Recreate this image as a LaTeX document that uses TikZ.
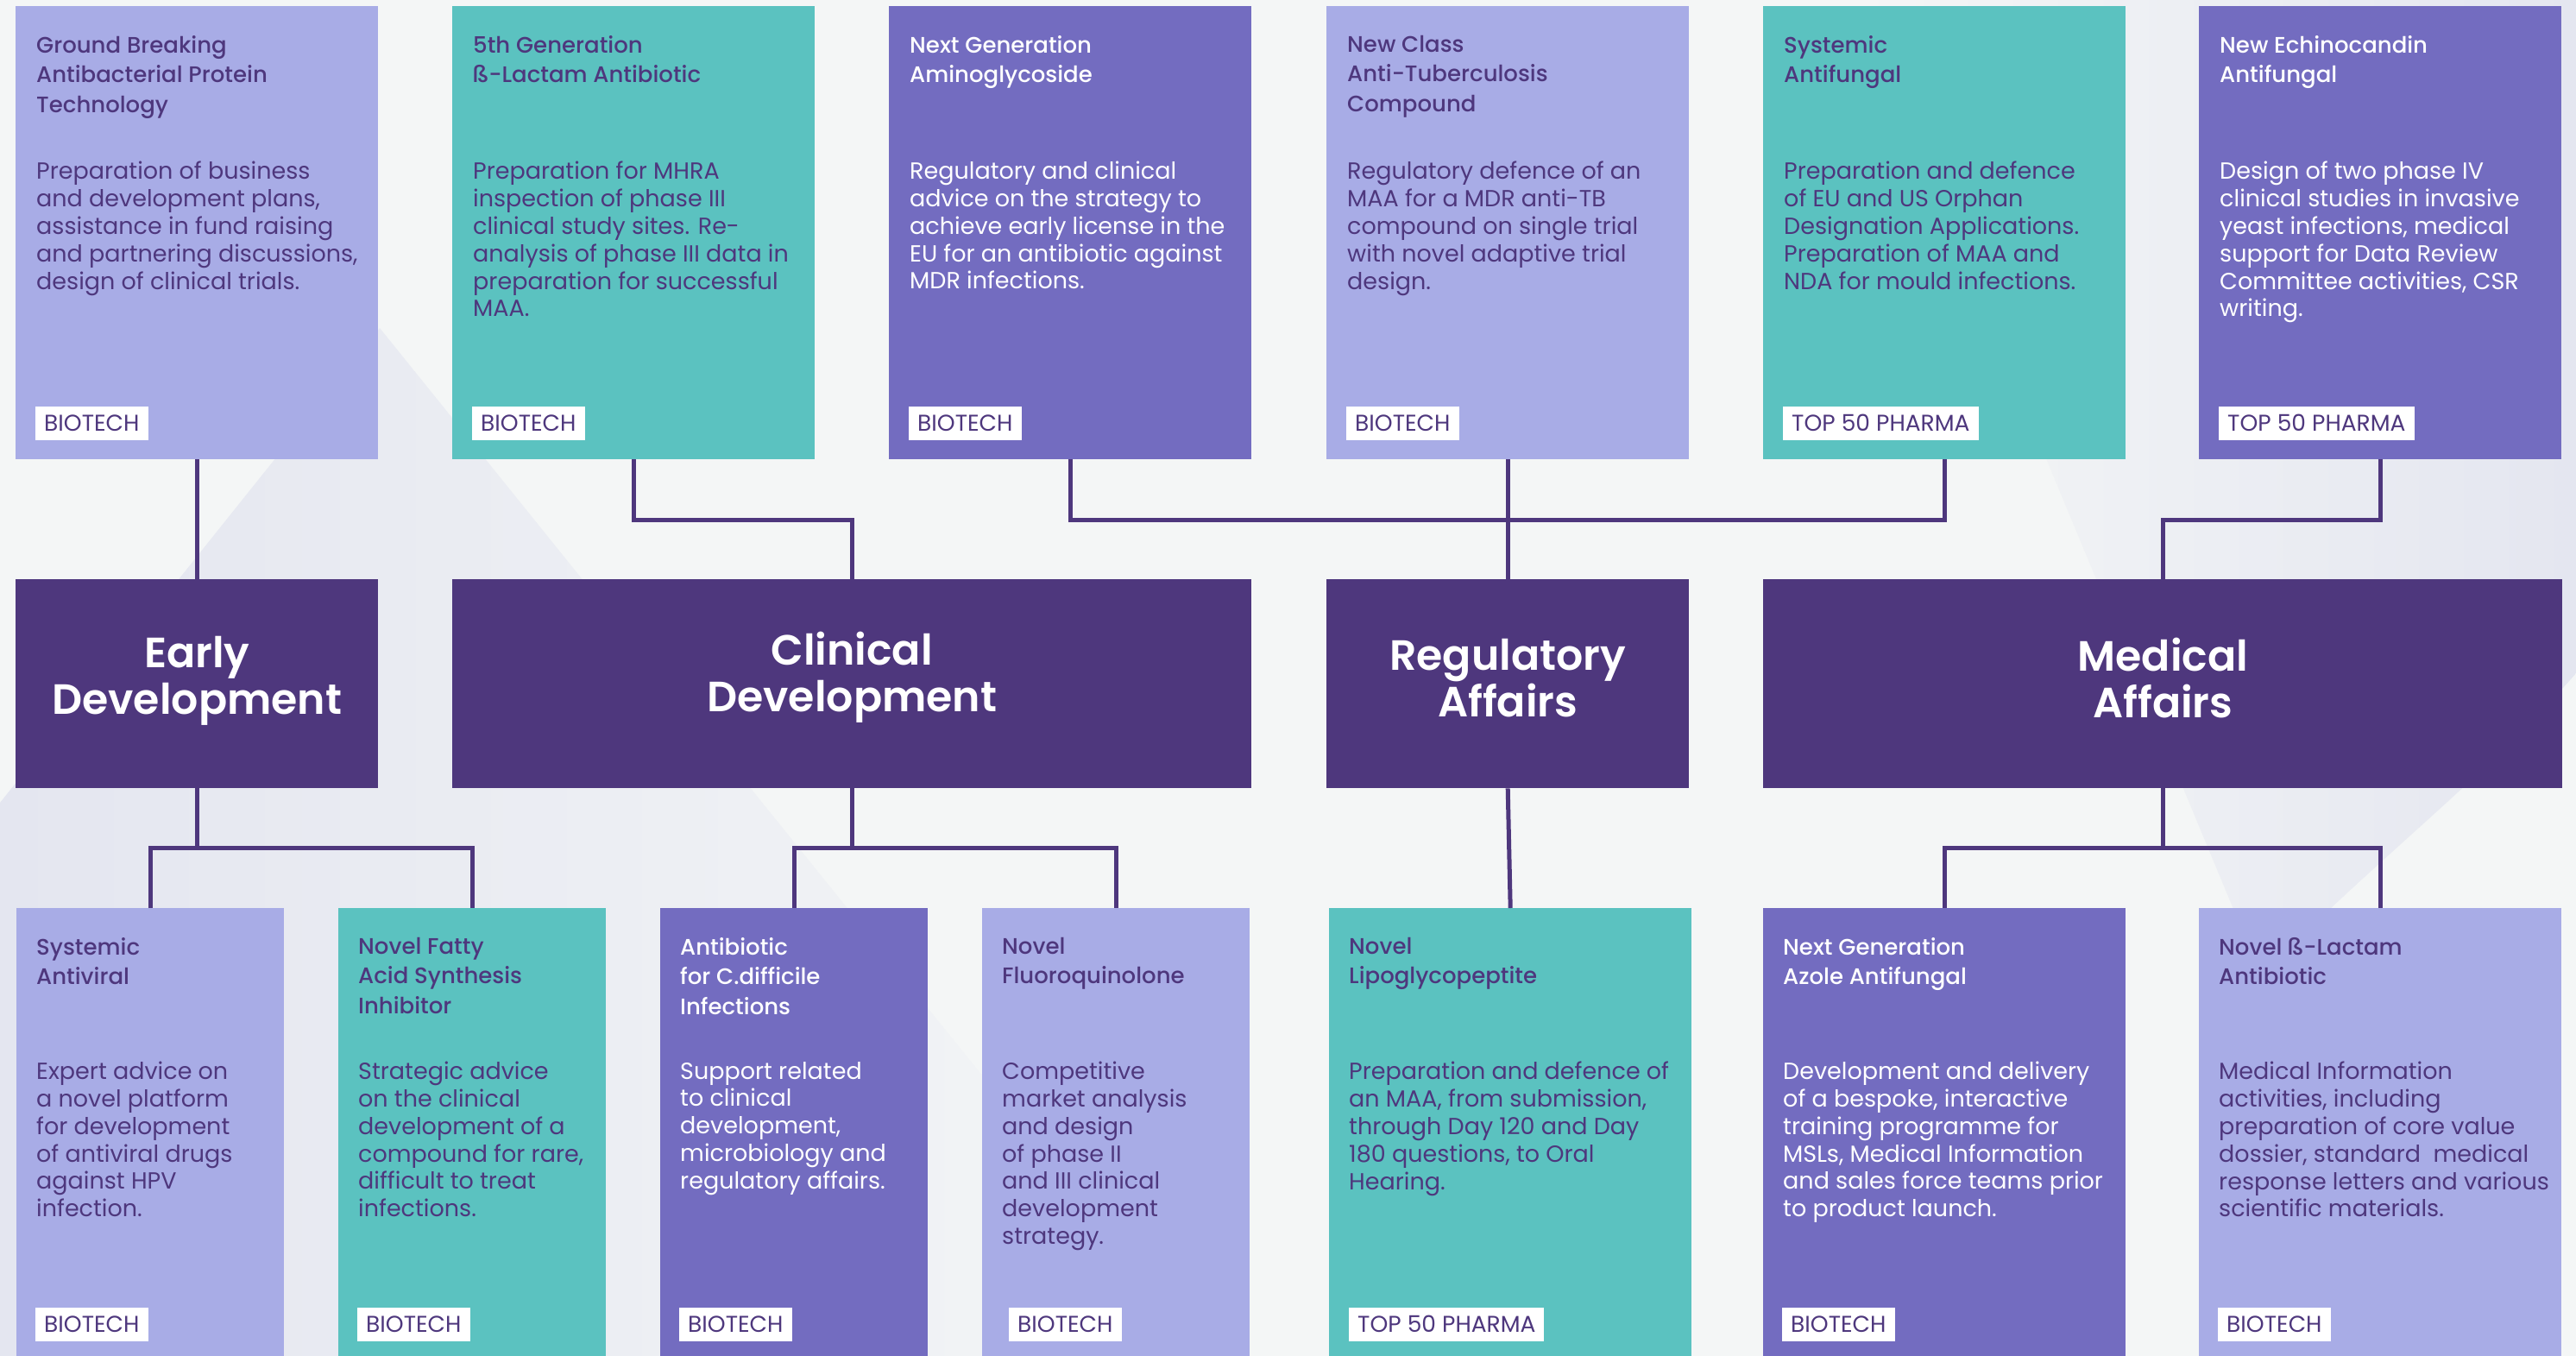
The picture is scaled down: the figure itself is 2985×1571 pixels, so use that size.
\documentclass[tikz,border=0pt]{standalone}
\usepackage{fontspec}
\setmainfont{Poppins}
\newfontfamily\medfont{Poppins Medium}
\newfontfamily\semifont{Poppins SemiBold}
\usetikzlibrary{calc}
\definecolor{cLav}{HTML}{A8ACE6}
\definecolor{cTeal}{HTML}{5BC2C0}
\definecolor{cMed}{HTML}{736CC0}
\definecolor{cDark}{HTML}{4E377D}
\definecolor{cBg}{HTML}{F4F6F6}
\definecolor{cTint}{HTML}{E4E6F0}
\tikzset{
  box/.style={rectangle, inner sep=0pt, anchor=north west},
  cardtop/.style={box, minimum width=420pt, minimum height=525pt},
  cardbot/.style={box, minimum height=519pt},
  midbox/.style={box, fill=cDark, minimum height=242pt},
  ttl/.style={anchor=north west, inner sep=0pt, align=left, font=\medfont\fontsize{26}{34.5}\selectfont,
     execute at begin node={\rule{0pt}{30pt}}},
  bdy/.style={anchor=north west, inner sep=0pt, align=left, font=\fontsize{27}{31.8}\selectfont,
     execute at begin node={\rule{0pt}{30pt}}},
  tag/.style={anchor=south west, fill=white, text=cDark, inner xsep=10pt, inner ysep=0pt,
     minimum height=39pt, text height=18pt, text depth=0pt, font=\fontsize{26.5}{26.5}\selectfont},
  midlbl/.style={align=center, text=white, inner sep=0pt, font=\semifont\fontsize{49}{54}\selectfont},
  conn/.style={draw=cDark, line width=5pt}
}
\begin{document}
\begin{tikzpicture}[x=1pt, y=-1pt]
\useasboundingbox (0,0) rectangle (2985,1571);
\fill[cBg] (0,0) rectangle (2985,1571);
\shade[left color=cTint, right color=cBg] (0,930) -- (440,380) -- (1400,1571) -- (0,1571) -- cycle;
\shade[left color=cBg, right color=cTint] (2150,0) -- (2985,0) -- (2985,780) .. controls (2880,900) and (2760,990) .. (2620,1130) -- cycle;

% ---------- top row ----------
\node[cardtop, fill=cLav]  (t1) at (18,7) {};
\node[cardtop, fill=cTeal] (t2) at (524,7) {};
\node[cardtop, fill=cMed]  (t3) at (1030,7) {};
\node[cardtop, fill=cLav]  (t4) at (1537,7) {};
\node[cardtop, fill=cTeal] (t5) at (2043,7) {};
\node[cardtop, fill=cMed]  (t6) at (2548,7) {};

\node[ttl, text=cDark] (t1t) at ($(t1.north west)+(24,34)$) {Ground Breaking\\Antibacterial Protein\\Technology};
\node[bdy, text=cDark] (t1b) at ($(t1.north west)+(24,180)$) {Preparation of business\\and development plans,\\assistance in fund raising\\and partnering discussions,\\design of clinical trials.};
\node[tag] (t1g) at ($(t1.south west)+(23,-22)$) {BIOTECH};

\node[ttl, text=cDark] (t2t) at ($(t2.north west)+(24,34)$) {5th Generation\\ß-Lactam Antibiotic};
\node[bdy, text=cDark] (t2b) at ($(t2.north west)+(24,180)$) {Preparation for MHRA\\inspection of phase III\\clinical study sites. Re-\\analysis of phase III data in\\preparation for successful\\MAA.};
\node[tag] (t2g) at ($(t2.south west)+(23,-22)$) {BIOTECH};

\node[ttl, text=white] (t3t) at ($(t3.north west)+(24,34)$) {Next Generation\\Aminoglycoside};
\node[bdy, text=white] (t3b) at ($(t3.north west)+(24,180)$) {Regulatory and clinical\\advice on the strategy to\\achieve early license in the\\EU for an antibiotic against\\MDR infections.};
\node[tag] (t3g) at ($(t3.south west)+(23,-22)$) {BIOTECH};

\node[ttl, text=cDark] (t4t) at ($(t4.north west)+(24,34)$) {New Class\\Anti-Tuberculosis\\Compound};
\node[bdy, text=cDark] (t4b) at ($(t4.north west)+(24,180)$) {Regulatory defence of an\\MAA for a MDR anti-TB\\compound on single trial\\with novel adaptive trial\\design.};
\node[tag] (t4g) at ($(t4.south west)+(23,-22)$) {BIOTECH};

\node[ttl, text=cDark] (t5t) at ($(t5.north west)+(24,34)$) {Systemic\\Antifungal};
\node[bdy, text=cDark] (t5b) at ($(t5.north west)+(24,180)$) {Preparation and defence\\of EU and US Orphan\\Designation Applications.\\Preparation of MAA and\\NDA for mould infections.};
\node[tag] (t5g) at ($(t5.south west)+(23,-22)$) {TOP 50 PHARMA};

\node[ttl, text=white] (t6t) at ($(t6.north west)+(24,34)$) {New Echinocandin\\Antifungal};
\node[bdy, text=white] (t6b) at ($(t6.north west)+(24,180)$) {Design of two phase IV\\clinical studies in invasive\\yeast infections, medical\\support for Data Review\\Committee activities, CSR\\writing.};
\node[tag] (t6g) at ($(t6.south west)+(23,-22)$) {TOP 50 PHARMA};

% ---------- middle row ----------
\node[midbox, minimum width=420pt] (m1) at (18,671) {};
\node[midbox, minimum width=926pt] (m2) at (524,671) {};
\node[midbox, minimum width=420pt] (m3) at (1537,671) {};
\node[midbox, minimum width=926pt] (m4) at (2043,671) {};
\node[midlbl] (m1l) at ($(m1.center)+(0,-3)$) {Early\\Development};
\node[midlbl] (m2l) at ($(m2.center)+(0,-7)$) {Clinical\\Development};
\node[midlbl] (m3l) at ($(m3.center)+(0,-7)$) {Regulatory\\Affairs};
\node[midlbl] (m4l) at ($(m4.center)+(0,-7)$) {Medical\\Affairs};

% ---------- bottom row ----------
\node[cardbot, fill=cLav,  minimum width=310pt] (b1) at (19,1052) {};
\node[cardbot, fill=cTeal, minimum width=310pt] (b2) at (392,1052) {};
\node[cardbot, fill=cMed,  minimum width=310pt] (b3) at (765,1052) {};
\node[cardbot, fill=cLav,  minimum width=310pt] (b4) at (1138,1052) {};
\node[cardbot, fill=cTeal, minimum width=420pt] (b5) at (1540,1052) {};
\node[cardbot, fill=cMed,  minimum width=420pt] (b6) at (2043,1052) {};
\node[cardbot, fill=cLav,  minimum width=420pt] (b7) at (2548,1052) {};

\node[ttl, text=cDark] (b1t) at ($(b1.north west)+(23,34)$) {Systemic\\Antiviral};
\node[bdy, text=cDark] (b1b) at ($(b1.north west)+(23,178)$) {Expert advice on\\a novel platform\\for development\\of antiviral drugs\\against HPV\\infection.};
\node[tag] (b1g) at ($(b1.south west)+(22,-17)$) {BIOTECH};

\node[ttl, text=cDark] (b2t) at ($(b2.north west)+(23,34)$) {Novel Fatty\\Acid Synthesis\\Inhibitor};
\node[bdy, text=cDark] (b2b) at ($(b2.north west)+(23,178)$) {Strategic advice\\on the clinical\\development of a\\compound for rare,\\difficult to treat\\infections.};
\node[tag] (b2g) at ($(b2.south west)+(22,-17)$) {BIOTECH};

\node[ttl, text=white] (b3t) at ($(b3.north west)+(23,34)$) {Antibiotic\\for C.difficile\\Infections};
\node[bdy, text=white] (b3b) at ($(b3.north west)+(23,178)$) {Support related\\to clinical\\development,\\microbiology and\\regulatory affairs.};
\node[tag] (b3g) at ($(b3.south west)+(22,-17)$) {BIOTECH};

\node[ttl, text=cDark] (b4t) at ($(b4.north west)+(23,34)$) {Novel\\Fluoroquinolone};
\node[bdy, text=cDark] (b4b) at ($(b4.north west)+(23,178)$) {Competitive\\market analysis\\and design\\of phase II\\and III clinical\\development\\strategy.};
\node[tag] (b4g) at ($(b4.south west)+(31,-17)$) {BIOTECH};

\node[ttl, text=cDark] (b5t) at ($(b5.north west)+(23,34)$) {Novel\\Lipoglycopeptite};
\node[bdy, text=cDark] (b5b) at ($(b5.north west)+(23,178)$) {Preparation and defence of\\an MAA, from submission,\\through Day 120 and Day\\180 questions, to Oral\\Hearing.};
\node[tag] (b5g) at ($(b5.south west)+(23,-17)$) {TOP 50 PHARMA};

\node[ttl, text=white] (b6t) at ($(b6.north west)+(23,34)$) {Next Generation\\Azole Antifungal};
\node[bdy, text=white] (b6b) at ($(b6.north west)+(23,178)$) {Development and delivery\\of a bespoke, interactive\\training programme for\\MSLs, Medical Information\\and sales force teams prior\\to product launch.};
\node[tag] (b6g) at ($(b6.south west)+(22,-17)$) {BIOTECH};

\node[ttl, text=cDark] (b7t) at ($(b7.north west)+(23,34)$) {Novel ß-Lactam\\Antibiotic};
\node[bdy, text=cDark] (b7b) at ($(b7.north west)+(23,178)$) {Medical Information\\activities, including\\preparation of core value\\dossier, standard\ \ medical\\response letters and various\\scientific materials.};
\node[tag] (b7g) at ($(b7.south west)+(22,-17)$) {BIOTECH};

% ---------- connectors ----------
\coordinate (ytop) at (0,602);
\coordinate (ybot) at (0,982);
\draw[conn] (t1.south) -- (m1.north);
\draw[conn] (t2.south) -- (t2.south |- ytop) -| (m2.north);
\draw[conn] (t3.south) -- (t3.south |- ytop) -| (t5.south);
\draw[conn] (t4.south) -- (m3.north);
\draw[conn] (t6.south) -- (t6.south |- ytop) -| (m4.north);

\draw[conn] (m1.south) -- (m1.south |- ybot);
\draw[conn] (b1.north) -- (b1.north |- ybot) -| (b2.north);
\draw[conn] (m2.south) -- (m2.south |- ybot);
\draw[conn] (b3.north) -- (b3.north |- ybot) -| (b4.north);
\draw[conn] (m3.south) -- (b5.north);
\draw[conn] (m4.south) -- (m4.south |- ybot);
\draw[conn] (b6.north) -- (b6.north |- ybot) -| (b7.north);
\end{tikzpicture}
\end{document}
